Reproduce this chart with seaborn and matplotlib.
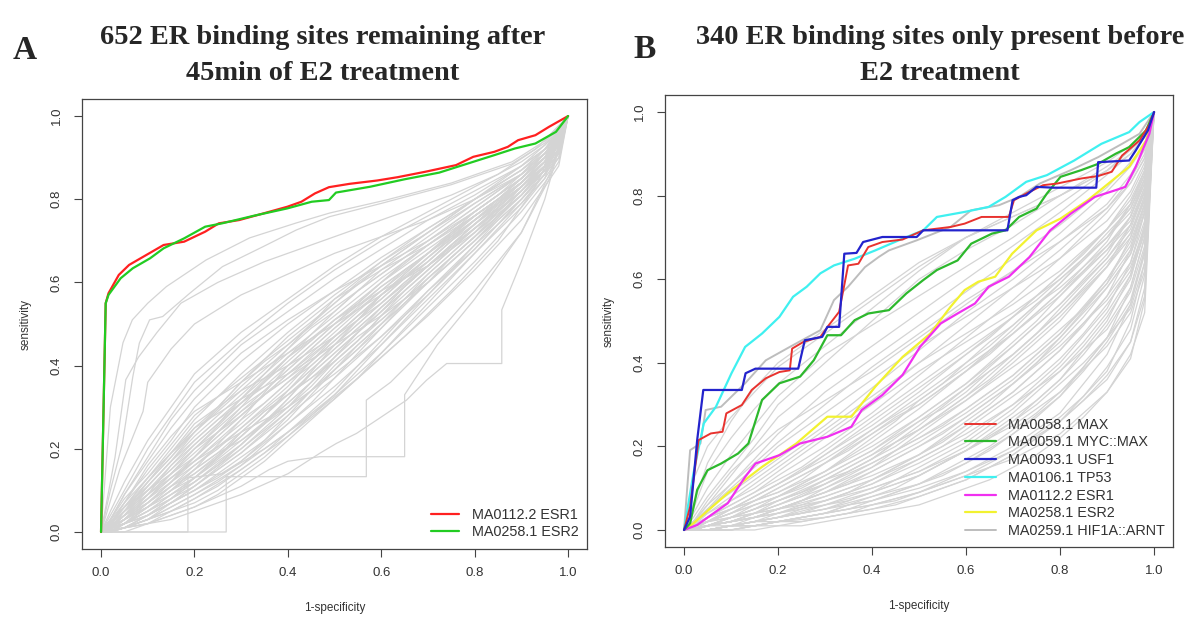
import matplotlib
matplotlib.use("Agg")
import matplotlib.pyplot as plt
import pandas as pd
import seaborn as sns

# ---------------- Panel A: sites remaining after 45 min of E2 ----------------
a_esr1_fpr = [0, 0.01, 0.016, 0.038, 0.060, 0.097, 0.134, 0.178, 0.223, 0.252, 0.296, 0.348,
              0.399, 0.429, 0.458, 0.488, 0.532, 0.591, 0.635, 0.694, 0.760, 0.797, 0.842,
              0.871, 0.893, 0.930, 0.959, 1.0]
a_esr1_tpr = [0, 0.55, 0.574, 0.618, 0.642, 0.666, 0.690, 0.698, 0.722, 0.742, 0.750, 0.766,
              0.782, 0.794, 0.814, 0.829, 0.837, 0.845, 0.853, 0.866, 0.882, 0.902, 0.914,
              0.926, 0.942, 0.954, 0.974, 1.0]
a_esr2_fpr = [0, 0.01, 0.016, 0.042, 0.068, 0.105, 0.134, 0.178, 0.223, 0.259, 0.326, 0.399,
              0.451, 0.488, 0.503, 0.576, 0.650, 0.724, 0.797, 0.842, 0.886, 0.930, 0.974, 1.0]
a_esr2_tpr = [0, 0.55, 0.570, 0.610, 0.634, 0.658, 0.682, 0.706, 0.734, 0.742, 0.760, 0.778,
              0.794, 0.798, 0.816, 0.830, 0.848, 0.864, 0.890, 0.906, 0.922, 0.934, 0.962, 1.0]

# background motifs, sensitivity sampled at a common 1-specificity grid
a_grid = [0, 0.02, 0.05, 0.1, 0.15, 0.2, 0.3, 0.4, 0.5, 0.6, 0.7, 0.8, 0.9, 0.95, 0.98, 1.0]
a_background_tpr = [
    [0, .04, .10, .20, .28, .36, .46, .55, .63, .70, .76, .82, .88, .93, .96, 1],
    [0, .03, .09, .18, .27, .34, .45, .53, .61, .68, .75, .81, .88, .92, .95, 1],
    [0, .05, .12, .22, .30, .38, .48, .56, .64, .71, .77, .83, .89, .93, .97, 1],
    [0, .02, .07, .15, .22, .30, .41, .50, .58, .66, .73, .80, .87, .92, .95, 1],
    [0, .02, .06, .13, .20, .27, .38, .48, .57, .65, .72, .79, .86, .91, .95, 1],
    [0, .03, .08, .14, .21, .28, .37, .46, .55, .64, .72, .80, .87, .92, .96, 1],
    [0, .01, .05, .12, .18, .24, .35, .45, .54, .62, .70, .78, .86, .91, .94, 1],
    [0, .02, .06, .11, .17, .23, .33, .43, .52, .61, .69, .77, .85, .90, .94, 1],
    [0, .01, .04, .10, .15, .21, .31, .41, .51, .60, .69, .77, .85, .90, .95, 1],
    [0, .02, .05, .10, .14, .19, .29, .39, .49, .58, .67, .76, .84, .90, .94, 1],
    [0, .01, .03, .08, .13, .18, .28, .38, .47, .57, .66, .75, .84, .89, .93, 1],
    [0, .01, .04, .08, .12, .17, .26, .36, .46, .56, .66, .75, .83, .89, .93, 1],
    [0, .00, .03, .07, .11, .16, .25, .34, .44, .54, .64, .74, .83, .88, .92, 1],
    [0, .01, .03, .06, .10, .14, .23, .33, .43, .53, .63, .73, .82, .88, .92, 1],
    [0, .00, .02, .06, .09, .13, .22, .31, .41, .51, .61, .71, .81, .87, .91, 1],
    [0, .01, .02, .05, .09, .12, .20, .29, .39, .49, .60, .70, .80, .86, .91, 1],
    [0, .00, .02, .04, .08, .11, .19, .28, .37, .47, .58, .69, .79, .86, .90, 1],
    [0, .00, .01, .04, .07, .10, .17, .26, .35, .45, .56, .67, .78, .85, .90, 1],
    [0, .00, .01, .03, .06, .09, .16, .24, .33, .43, .54, .65, .77, .84, .89, 1],
    [0, .00, .01, .03, .05, .08, .15, .23, .32, .42, .52, .63, .75, .83, .88, 1],
    [0, .01, .05, .12, .19, .26, .34, .40, .47, .55, .64, .74, .84, .90, .94, 1],
    [0, .02, .07, .16, .23, .29, .36, .43, .50, .57, .65, .75, .85, .91, .95, 1],
    [0, .01, .03, .09, .16, .22, .32, .44, .56, .65, .73, .80, .87, .91, .94, 1],
    [0, .00, .02, .07, .12, .18, .30, .42, .53, .63, .71, .79, .86, .91, .94, 1],
    [0, .01, .04, .09, .13, .17, .24, .30, .38, .47, .57, .68, .80, .87, .92, 1],
    [0, .02, .06, .13, .19, .25, .32, .38, .45, .52, .60, .70, .81, .88, .93, 1],
    [0, .00, .02, .05, .08, .12, .21, .32, .45, .57, .67, .76, .84, .89, .93, 1],
    [0, .00, .01, .04, .07, .11, .20, .30, .42, .54, .64, .73, .82, .88, .92, 1],
    [0, .01, .03, .06, .10, .15, .27, .40, .50, .59, .67, .75, .83, .88, .92, 1],
    [0, .02, .05, .09, .14, .20, .31, .42, .51, .58, .64, .72, .81, .87, .91, 1],
    [0, .03, .09, .17, .25, .32, .43, .51, .58, .64, .70, .77, .85, .90, .94, 1],
    [0, .01, .04, .11, .17, .24, .36, .47, .56, .63, .69, .76, .84, .89, .93, 1],
]

# further background motifs on a finer grid (every 0.05)
a_grid_fine = [0, .05, .1, .15, .2, .25, .3, .35, .4, .45, .5, .55, .6, .65, .7, .75,
               .8, .85, .9, .95, 1.0]
a_background_fine_tpr = [
    [0, .06, .12, .18, .25, .30, .36, .41, .45, .50, .55, .60, .64, .68, .72, .76, .80, .84, .88, .92, 1],
    [0, .04, .08, .13, .17, .22, .27, .31, .36, .40, .45, .50, .55, .60, .64, .69, .74, .78, .83, .89, 1],
    [0, .02, .05, .09, .13, .18, .23, .28, .34, .39, .44, .49, .54, .59, .64, .69, .73, .78, .83, .88, 1],
    [0, .03, .07, .12, .16, .20, .25, .30, .35, .41, .47, .52, .57, .61, .66, .71, .76, .80, .85, .90, 1],
    [0, .01, .04, .07, .11, .15, .19, .24, .29, .34, .39, .44, .50, .55, .61, .66, .71, .76, .82, .88, 1],
    [0, .05, .10, .16, .21, .26, .32, .37, .42, .46, .51, .55, .60, .65, .69, .73, .77, .81, .85, .90, 1],
    [0, .02, .05, .08, .12, .16, .21, .26, .32, .38, .43, .48, .53, .58, .63, .68, .73, .77, .82, .87, 1],
    [0, .01, .03, .06, .09, .12, .16, .21, .26, .31, .37, .43, .49, .55, .60, .66, .71, .77, .82, .88, 1],
    [0, .03, .06, .10, .15, .19, .24, .29, .33, .37, .42, .48, .53, .59, .64, .69, .74, .79, .84, .89, 1],
    [0, .07, .13, .19, .24, .29, .34, .39, .44, .49, .53, .58, .62, .66, .70, .74, .78, .82, .86, .91, 1],
    [0, .02, .06, .11, .15, .19, .22, .26, .31, .36, .42, .47, .51, .56, .61, .66, .71, .76, .81, .87, 1],
    [0, .01, .02, .05, .08, .11, .15, .19, .24, .29, .34, .40, .46, .52, .58, .63, .69, .75, .80, .86, 1],
    [0, .04, .09, .14, .18, .23, .28, .33, .38, .43, .48, .53, .58, .63, .67, .72, .76, .80, .84, .89, 1],
    [0, .02, .04, .07, .10, .14, .18, .22, .27, .33, .39, .45, .50, .56, .62, .67, .72, .77, .83, .88, 1],
    [0, .03, .08, .14, .20, .24, .28, .33, .37, .42, .47, .52, .56, .61, .65, .70, .75, .79, .84, .89, 1],
    [0, .01, .03, .05, .07, .10, .14, .18, .23, .28, .33, .39, .45, .51, .57, .63, .68, .74, .80, .86, 1],
    [0, .05, .11, .17, .22, .27, .31, .35, .40, .45, .50, .55, .60, .64, .68, .72, .77, .81, .86, .90, 1],
    [0, .02, .06, .10, .13, .17, .21, .26, .30, .35, .41, .46, .52, .57, .62, .67, .72, .78, .83, .88, 1],
    [0, .00, .02, .04, .06, .09, .13, .17, .22, .27, .32, .37, .43, .49, .55, .61, .67, .73, .79, .85, 1],
    [0, .03, .07, .11, .14, .18, .23, .28, .34, .40, .45, .50, .55, .60, .65, .70, .74, .79, .84, .89, 1],
    [0, .04, .07, .12, .18, .24, .29, .33, .37, .41, .46, .51, .57, .62, .67, .71, .75, .79, .83, .88, 1],
    [0, .01, .03, .07, .10, .13, .17, .22, .28, .34, .40, .45, .50, .55, .60, .65, .70, .76, .81, .87, 1],
    [0, .02, .04, .08, .13, .18, .24, .29, .33, .37, .41, .46, .52, .58, .63, .68, .73, .78, .83, .88, 1],
    [0, .06, .10, .15, .20, .25, .30, .34, .39, .44, .49, .54, .59, .63, .67, .72, .76, .80, .85, .90, 1],
]

# background motifs with their own breakpoints (steep starters and late risers)
a_other_fpr = [
    [0, .02, .047, .067, .10, .14, .225, .318, .418, .49, .61, .75, .88, .95, 1],
    [0, .02, .046, .068, .082, .104, .132, .19, .26, .347, .418, .489, .60, .75, .88, .95, 1],
    [0, .03, .053, .08, .12, .171, .25, .35, .45, .55, .65, .75, .85, .93, 1],
    [0, .04, .09, .10, .15, .20, .30, .40, .50, .60, .70, .80, .90, .95, 1],
    [0, .268, .268, .568, .568, .62, .70, .80, .90, .96, 1],
    [0, .10, .20, .30, .36, .40, .468, .65, .65, .72, .80, .90, .96, 1],
    [0, .15, .30, .40, .468, .504, .547, .59, .654, .697, .74, .858, .858, .90, .95, 1],
    [0, .186, .186, .26, .35, .45, .55, .65, .75, .85, .93, 1],
]
a_other_tpr = [
    [0, .30, .455, .51, .55, .59, .654, .707, .743, .767, .798, .839, .89, .94, 1],
    [0, .10, .214, .373, .454, .51, .518, .574, .638, .686, .726, .758, .79, .835, .885, .935, 1],
    [0, .18, .366, .42, .48, .55, .60, .65, .69, .73, .77, .81, .86, .92, 1],
    [0, .15, .29, .36, .44, .50, .57, .62, .67, .71, .75, .80, .86, .92, 1],
    [0, 0, .133, .133, .317, .36, .45, .58, .72, .86, 1],
    [0, .02, .06, .11, .15, .17, .181, .181, .33, .45, .56, .72, .85, 1],
    [0, .03, .09, .14, .189, .213, .237, .269, .317, .365, .405, .405, .534, .65, .80, 1],
    [0, 0, .13, .14, .20, .28, .37, .47, .58, .70, .83, 1],
]

# ---------------- Panel B: sites only present before E2 ----------------
b_max_fpr = [0, .013, .031, .057, .082, .090, .123, .144, .174, .203, .225, .230, .254, .290,
             .308, .330, .349, .371, .392, .422, .465, .509, .567, .597, .633, .691, .702,
             .728, .764, .794, .845, .881, .910, .932, .969, .99, 1.0]
b_max_tpr = [0, .056, .215, .231, .235, .279, .299, .335, .363, .378, .382, .434, .450, .462,
             .490, .522, .633, .637, .677, .689, .695, .717, .725, .733, .749, .749, .789,
             .805, .825, .829, .841, .847, .857, .896, .932, .97, 1.0]
b_myc_fpr = [0, .013, .028, .050, .079, .115, .137, .166, .203, .247, .276, .305, .334, .363,
             .392, .436, .473, .509, .538, .582, .611, .655, .684, .713, .750, .772, .801,
             .845, .881, .918, .947, .983, 1.0]
b_myc_tpr = [0, .016, .096, .143, .159, .183, .207, .311, .351, .367, .406, .466, .466, .502,
             .518, .526, .566, .598, .622, .645, .685, .709, .717, .749, .769, .805, .845,
             .861, .876, .900, .916, .956, 1.0]
b_usf1_fpr = [0, .013, .028, .041, .123, .131, .152, .243, .257, .294, .305, .330, .341, .367,
              .381, .422, .495, .509, .688, .699, .713, .728, .750, .786, .877, .881, .947,
              .961, .987, 1.0]
b_usf1_tpr = [0, .032, .215, .335, .335, .375, .386, .386, .454, .462, .486, .486, .661, .663,
              .689, .701, .701, .717, .717, .789, .797, .801, .821, .819, .819, .880, .884,
              .908, .956, 1.0]
b_tp53_fpr = [0, .020, .042, .068, .101, .130, .166, .203, .232, .261, .290, .319, .363, .407,
              .465, .509, .538, .597, .648, .684, .728, .772, .830, .888, .947, .969, 1.0]
b_tp53_tpr = [0, .135, .255, .295, .375, .438, .470, .510, .558, .582, .614, .633, .649, .669,
              .697, .717, .749, .761, .773, .797, .833, .849, .884, .924, .952, .976, 1.0]
b_esr1_fpr = [0, .028, .093, .130, .152, .203, .247, .305, .356, .378, .422, .465, .502, .546,
              .582, .619, .648, .691, .735, .779, .823, .874, .918, .939, .961, .990, 1.0]
b_esr1_tpr = [0, .012, .064, .127, .159, .179, .207, .223, .247, .287, .323, .371, .438, .494,
              .518, .542, .582, .606, .653, .717, .757, .797, .813, .821, .869, .948, 1.0]
b_esr2_fpr = [0, .020, .093, .166, .239, .305, .356, .407, .465, .524, .567, .597, .626, .662,
              .698, .750, .801, .859, .903, .947, .983, 1.0]
b_esr2_tpr = [0, .016, .088, .151, .207, .271, .271, .343, .414, .470, .534, .574, .594, .606,
              .661, .717, .745, .789, .829, .869, .932, 1.0]
b_hif_fpr = [0, .013, .035, .046, .079, .130, .174, .225, .290, .319, .349, .385, .414, .436,
             .495, .567, .611, .670, .713, .757, .823, .881, .932, .969, 1.0]
b_hif_tpr = [0, .191, .207, .287, .295, .351, .406, .438, .478, .550, .582, .629, .653, .669,
             .693, .725, .765, .777, .797, .829, .861, .892, .924, .948, 1.0]

b_grid = [0, 0.02, 0.05, 0.1, 0.15, 0.2, 0.3, 0.4, 0.5, 0.6, 0.7, 0.8, 0.9, 0.95, 0.98, 1.0]
b_background_tpr = [
    [0, .01, .03, .06, .09, .13, .20, .28, .37, .46, .55, .65, .76, .83, .89, 1],
    [0, .01, .03, .07, .11, .15, .23, .31, .40, .49, .58, .67, .77, .84, .90, 1],
    [0, .02, .05, .09, .13, .17, .25, .34, .43, .52, .60, .69, .78, .85, .91, 1],
    [0, .00, .02, .05, .08, .11, .18, .25, .33, .42, .51, .61, .72, .80, .87, 1],
    [0, .00, .02, .04, .07, .10, .16, .23, .30, .38, .47, .57, .69, .78, .86, 1],
    [0, .00, .01, .03, .06, .08, .14, .20, .27, .35, .44, .54, .66, .75, .84, 1],
    [0, .00, .01, .03, .05, .07, .12, .18, .24, .31, .40, .50, .63, .73, .82, 1],
    [0, .00, .01, .02, .04, .06, .10, .15, .21, .28, .36, .46, .59, .70, .80, 1],
    [0, .00, .01, .02, .03, .05, .09, .13, .18, .25, .33, .43, .56, .67, .78, 1],
    [0, .00, .00, .01, .03, .04, .07, .11, .16, .22, .30, .40, .53, .64, .76, 1],
    [0, .00, .00, .01, .02, .03, .06, .09, .13, .19, .26, .36, .50, .61, .73, 1],
    [0, .00, .00, .01, .02, .03, .05, .08, .11, .16, .23, .32, .46, .58, .70, 1],
    [0, .00, .00, .00, .01, .02, .04, .06, .09, .14, .20, .28, .42, .54, .67, 1],
    [0, .00, .00, .00, .01, .02, .03, .05, .08, .12, .18, .26, .38, .50, .64, 1],
    [0, .01, .02, .04, .06, .08, .13, .19, .26, .34, .42, .52, .63, .71, .79, 1],
    [0, .01, .02, .05, .08, .11, .17, .24, .31, .39, .47, .56, .67, .75, .83, 1],
    [0, .01, .04, .08, .12, .16, .24, .32, .40, .47, .54, .62, .72, .79, .86, 1],
    [0, .02, .05, .10, .15, .20, .28, .36, .44, .51, .58, .65, .74, .81, .88, 1],
    [0, .02, .06, .11, .16, .21, .30, .39, .47, .55, .62, .69, .77, .83, .89, 1],
    [0, .00, .01, .02, .04, .05, .08, .12, .17, .23, .30, .38, .48, .57, .68, 1],
    [0, .00, .01, .02, .03, .04, .07, .10, .14, .19, .25, .33, .44, .52, .62, 1],
    [0, .00, .00, .01, .02, .03, .05, .07, .10, .14, .19, .26, .36, .45, .56, 1],
    [0, .01, .02, .03, .05, .07, .11, .16, .22, .29, .37, .47, .60, .69, .78, 1],
    [0, .00, .01, .03, .04, .06, .11, .17, .25, .34, .44, .54, .65, .73, .81, 1],
    [0, .01, .03, .05, .07, .09, .14, .21, .29, .38, .48, .59, .70, .77, .84, 1],
    [0, .00, .01, .02, .03, .05, .09, .14, .20, .27, .35, .44, .55, .63, .72, 1],
    [0, .02, .04, .07, .10, .14, .22, .30, .38, .45, .52, .60, .70, .78, .85, 1],
    [0, .00, .00, .01, .01, .02, .04, .06, .09, .13, .17, .23, .33, .42, .52, 1],
    [0, .12, .20, .27, .33, .39, .47, .55, .63, .70, .76, .82, .88, .92, .95, 1],
    [0, .05, .14, .22, .29, .35, .44, .53, .62, .70, .75, .80, .86, .91, .94, 1],
    [0, .03, .08, .15, .22, .30, .40, .50, .60, .67, .73, .80, .87, .91, .95, 1],
    [0, .04, .10, .18, .25, .32, .42, .49, .56, .63, .70, .78, .86, .91, .94, 1],
    [0, .02, .06, .13, .20, .27, .36, .44, .52, .60, .68, .76, .85, .90, .94, 1],
    [0, .06, .16, .26, .34, .40, .48, .56, .64, .70, .75, .80, .86, .90, .94, 1],
    [0, .01, .05, .11, .17, .23, .33, .41, .49, .57, .65, .73, .82, .88, .92, 1],
    [0, .02, .07, .14, .19, .24, .31, .38, .46, .54, .62, .71, .81, .87, .92, 1],
]

b_grid_fine = [0, .05, .1, .15, .2, .25, .3, .35, .4, .45, .5, .55, .6, .65, .7, .75,
               .8, .85, .9, .95, .98, 1.0]
b_background_fine_tpr = [
    [0, .01, .02, .04, .05, .07, .09, .11, .14, .17, .20, .23, .27, .31, .35, .40, .45, .51, .58, .66, .76, 1],
    [0, .02, .04, .06, .08, .10, .13, .16, .19, .23, .27, .31, .35, .40, .45, .50, .56, .62, .68, .75, .83, 1],
    [0, .00, .01, .02, .03, .04, .05, .07, .09, .11, .13, .16, .19, .23, .27, .31, .36, .42, .49, .58, .70, 1],
    [0, .03, .06, .09, .12, .15, .19, .23, .27, .31, .35, .39, .43, .47, .51, .55, .60, .65, .71, .77, .85, 1],
    [0, .01, .02, .03, .05, .06, .08, .10, .12, .15, .18, .21, .25, .29, .33, .38, .43, .49, .56, .64, .74, 1],
    [0, .00, .01, .01, .02, .03, .04, .05, .07, .09, .11, .13, .16, .19, .23, .27, .32, .38, .45, .54, .66, 1],
    [0, .02, .05, .08, .11, .14, .18, .22, .26, .30, .34, .38, .42, .46, .51, .56, .61, .66, .72, .78, .86, 1],
    [0, .01, .03, .04, .06, .08, .11, .14, .17, .20, .24, .28, .32, .36, .41, .46, .51, .57, .63, .70, .79, 1],
    [0, .00, .00, .01, .01, .02, .03, .04, .05, .06, .08, .10, .12, .15, .18, .22, .26, .31, .37, .45, .58, 1],
    [0, .01, .02, .04, .07, .09, .12, .15, .18, .22, .26, .29, .33, .38, .42, .47, .53, .59, .65, .72, .81, 1],
    [0, .00, .01, .02, .03, .05, .06, .08, .10, .12, .14, .17, .20, .24, .28, .33, .38, .44, .51, .60, .72, 1],
    [0, .01, .03, .05, .08, .11, .14, .18, .22, .26, .31, .35, .40, .44, .49, .54, .59, .65, .70, .76, .84, 1],
    [0, .00, .01, .02, .02, .03, .04, .06, .07, .09, .11, .14, .17, .20, .24, .28, .33, .39, .46, .55, .67, 1],
    [0, .02, .03, .05, .07, .09, .12, .14, .17, .21, .24, .28, .32, .37, .42, .47, .52, .58, .64, .71, .80, 1],
    [0, .00, .00, .01, .02, .02, .03, .04, .06, .07, .09, .11, .13, .16, .19, .23, .27, .32, .39, .48, .61, 1],
    [0, .01, .02, .03, .04, .06, .07, .09, .11, .14, .17, .20, .24, .28, .32, .36, .41, .47, .54, .62, .73, 1],
    [0, .03, .05, .07, .10, .13, .16, .20, .24, .28, .32, .36, .40, .45, .49, .54, .58, .63, .68, .74, .82, 1],
    [0, .00, .01, .01, .02, .03, .04, .06, .08, .10, .13, .16, .19, .22, .26, .30, .35, .40, .46, .53, .64, 1],
    [0, .01, .01, .02, .04, .05, .07, .09, .12, .15, .18, .22, .26, .30, .35, .40, .46, .52, .58, .66, .76, 1],
    [0, .00, .00, .00, .01, .01, .02, .03, .04, .05, .06, .08, .10, .12, .15, .18, .22, .27, .33, .41, .55, 1],
    [0, .02, .04, .07, .09, .12, .16, .19, .23, .27, .30, .34, .38, .42, .47, .52, .57, .62, .67, .73, .81, 1],
    [0, .01, .02, .03, .05, .07, .10, .13, .16, .19, .22, .25, .29, .33, .37, .42, .47, .53, .60, .68, .78, 1],
    [0, .00, .01, .02, .03, .04, .06, .07, .09, .12, .15, .18, .21, .25, .29, .34, .39, .45, .52, .61, .71, 1],
    [0, .01, .02, .03, .05, .07, .09, .12, .15, .19, .23, .27, .31, .35, .39, .43, .48, .53, .59, .67, .77, 1],
]

tick_values = [0.0, 0.2, 0.4, 0.6, 0.8, 1.0]
tick_labels = ["0.0", "0.2", "0.4", "0.6", "0.8", "1.0"]

# ---------------- styling ----------------
sns.set_theme(style="white")
plt.rcParams["font.family"] = ["Liberation Sans", "DejaVu Sans"]
TEXT = "#333333"
BG_GRAY = "#d4d4d4"


def curves_frame(fprs, tprs):
    parts = [pd.DataFrame({"curve": i, "fpr": f, "tpr": t})
             for i, (f, t) in enumerate(zip(fprs, tprs))]
    return pd.concat(parts, ignore_index=True)


def draw_background(ax, frame):
    sns.lineplot(data=frame, x="fpr", y="tpr", units="curve", estimator=None,
                 sort=False, color=BG_GRAY, lw=0.9, legend=False, ax=ax, zorder=1)


def style_axes(ax):
    ax.set_xlim(-0.04, 1.04)
    ax.set_ylim(-0.04, 1.04)
    ax.set_xticks(tick_values, tick_labels)
    ax.set_yticks(tick_values, tick_labels)
    ax.tick_params(axis="both", direction="out", length=5.5, width=0.8, color="#444444",
                   labelsize=9.5, labelcolor=TEXT, bottom=True, left=True)
    ax.tick_params(axis="x", pad=7.5)
    ax.tick_params(axis="y", pad=8.5)
    for lab in ax.get_yticklabels():
        lab.set_rotation(90)
        lab.set_va("center")
    for sp in ax.spines.values():
        sp.set_visible(True)
        sp.set_color("#444444")
        sp.set_linewidth(0.9)
    ax.set_xlabel("1-specificity", fontsize=8.5, color=TEXT, labelpad=17)
    ax.set_ylabel("sensitivity", fontsize=8.5, color=TEXT, labelpad=14)
    ax.set_facecolor("white")


fig = plt.figure(figsize=(11.9, 6.19), dpi=100)
ax_a = fig.add_axes([0.0692, 0.1137, 0.4239, 0.7257])
ax_b = fig.add_axes([0.5590, 0.1168, 0.4266, 0.7292])

# ---- panel A ----
draw_background(ax_a, curves_frame([a_grid] * len(a_background_tpr), a_background_tpr))
draw_background(ax_a, curves_frame([a_grid_fine] * len(a_background_fine_tpr),
                                   a_background_fine_tpr))
draw_background(ax_a, curves_frame(a_other_fpr, a_other_tpr))
a_series = [
    ("MA0112.2 ESR1", a_esr1_fpr, a_esr1_tpr, "#ff2020"),
    ("MA0258.1 ESR2", a_esr2_fpr, a_esr2_tpr, "#22cc22"),
]
for name, f, t, c in a_series:
    sns.lineplot(x=f, y=t, sort=False, estimator=None, color=c, lw=1.6,
                 label=name, ax=ax_a, zorder=3)
style_axes(ax_a)
ax_a.legend(loc="lower right", bbox_to_anchor=(0.985, 0.021), frameon=False,
            fontsize=10.4, handlelength=1.9, handletextpad=0.95, labelspacing=0.2,
            borderpad=0, borderaxespad=0, labelcolor=TEXT)

# ---- panel B ----
draw_background(ax_b, curves_frame([b_grid] * len(b_background_tpr), b_background_tpr))
draw_background(ax_b, curves_frame([b_grid_fine] * len(b_background_fine_tpr),
                                   b_background_fine_tpr))
b_series = [
    ("MA0259.1 HIF1A::ARNT", b_hif_fpr, b_hif_tpr, "#bdbdbd", 1.4),
    ("MA0258.1 ESR2", b_esr2_fpr, b_esr2_tpr, "#f2f230", 1.6),
    ("MA0112.2 ESR1", b_esr1_fpr, b_esr1_tpr, "#f030f0", 1.6),
    ("MA0059.1 MYC::MAX", b_myc_fpr, b_myc_tpr, "#2db82d", 1.6),
    ("MA0106.1 TP53", b_tp53_fpr, b_tp53_tpr, "#3ff0f0", 1.6),
    ("MA0058.1 MAX", b_max_fpr, b_max_tpr, "#e8322e", 1.4),
    ("MA0093.1 USF1", b_usf1_fpr, b_usf1_tpr, "#2323cc", 1.6),
]
for name, f, t, c, lw in b_series:
    sns.lineplot(x=f, y=t, sort=False, estimator=None, color=c, lw=lw,
                 label=name, ax=ax_b, zorder=3)
style_axes(ax_b)
handles, labels = ax_b.get_legend_handles_labels()
order = ["MA0058.1 MAX", "MA0059.1 MYC::MAX", "MA0093.1 USF1", "MA0106.1 TP53",
         "MA0112.2 ESR1", "MA0258.1 ESR2", "MA0259.1 HIF1A::ARNT"]
lookup = dict(zip(labels, handles))
ax_b.legend([lookup[k] for k in order], order, loc="lower right",
            bbox_to_anchor=(0.985, 0.019), frameon=False, fontsize=10.4,
            handlelength=2.15, handletextpad=0.85, labelspacing=0.26,
            borderpad=0, borderaxespad=0, labelcolor=TEXT)

# ---- panel letters and titles ----
serif = ["Liberation Serif", "DejaVu Serif"]
fig.text(0.0109, 0.9047, "A", family=serif, weight="bold", fontsize=24, va="baseline")
fig.text(0.5319, 0.9063, "B", family=serif, weight="bold", fontsize=24, va="baseline")
fig.text(0.2714, 0.9297, "652 ER binding sites remaining after", family=serif,
         weight="bold", fontsize=20.4, ha="center", va="baseline")
fig.text(0.2714, 0.8708, "45min of E2 treatment", family=serif,
         weight="bold", fontsize=20.4, ha="center", va="baseline")
fig.text(0.7899, 0.9297, "340 ER binding sites only present before", family=serif,
         weight="bold", fontsize=20.4, ha="center", va="baseline")
fig.text(0.7899, 0.8708, "E2 treatment", family=serif,
         weight="bold", fontsize=20.4, ha="center", va="baseline")

fig.savefig("out.png", dpi=100)
